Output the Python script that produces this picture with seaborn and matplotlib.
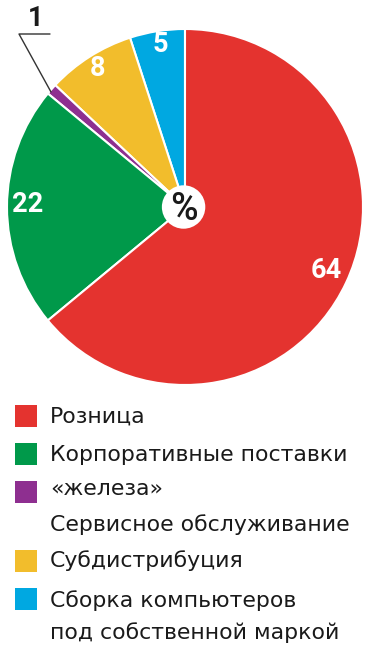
import matplotlib
matplotlib.use("Agg")
import matplotlib.pyplot as plt
import seaborn as sns
from matplotlib.patches import Rectangle, Circle

sns.set_theme(style="white")
plt.rcParams['font.family'] = ['DejaVu Sans']

# Data (counter-clockwise from top)
categories = ["Сборка компьютеров под собственной маркой", "Субдистрибуция",
              "Сервисное обслуживание", "Корпоративные поставки «железа»", "Розница"]
values = [5, 8, 1, 22, 64]
colors = ["#00A8E1", "#F2BD2C", "#8E2F90", "#00994A", "#E4332F"]
value_labels = ["5", "8", "1", "22", "64"]

legend_lines = ["Розница", "Корпоративные поставки", "«железа»",
                "Сервисное обслуживание", "Субдистрибуция",
                "Сборка компьютеров", "под собственной маркой"]
legend_square_colors = ["#E4332F", "#00994A", "#8E2F90", None, "#F2BD2C", "#00A8E1", None]

W, H = 370, 650
fig = plt.figure(figsize=(W / 100, H / 100), dpi=100)
fig.patch.set_facecolor("white")

cx, cy, R = 185, 207, 178
ax = fig.add_axes([(cx - R) / W, 1 - (cy + R) / H, 2 * R / W, 2 * R / H])
wedges, _ = ax.pie(values, colors=colors, startangle=90, counterclock=True,
                   radius=1.0, wedgeprops=dict(edgecolor="white", linewidth=1.5))
ax.set_xlim(-1, 1)
ax.set_ylim(-1, 1)
ax.set_aspect("equal")
ax.axis("off")

# center circle with %
ax.add_patch(Circle((-0.008, 0), 0.122, facecolor="white", edgecolor="none", zorder=5))
ax.text(-0.008, -0.012, "%", ha="center", va="center", fontsize=27,
        family=["Roboto", "DejaVu Sans"], fontweight="medium",
        color="#1a1a1a", zorder=6)

def px2data(x, y):
    return ((x - cx) / R, (cy - y) / R)

label_pos = {"5": (160, 44), "8": (97.5, 69), "22": (28, 205), "64": (326, 270)}
for lab in value_labels:
    if lab in label_pos:
        dx, dy = px2data(*label_pos[lab])
        ax.text(dx, dy, lab, ha="center", va="center", fontsize=19.5,
                family=["Roboto", "DejaVu Sans"], fontweight="bold",
                color="white", zorder=6)

# leader for "1"
p0 = px2data(51, 92)
p1 = px2data(19, 34)
p2 = px2data(50, 34)
ax.plot([p0[0], p1[0], p2[0]], [p0[1], p1[1], p2[1]], color="#333333",
        lw=1.0, clip_on=False, zorder=7)
lx, ly = px2data(36, 18.5)
ax.text(lx, ly, "1", ha="center", va="center", fontsize=19.5,
        family=["Roboto", "DejaVu Sans"], fontweight="bold",
        color="#1a1a1a", clip_on=False)

# legend
text_y = [417, 455, 489, 525, 561, 601, 633]
sq_y = [416, 454, 492, None, 561, 599, None]
for i, line in enumerate(legend_lines):
    fig.text(50 / W, 1 - text_y[i] / H, line, ha="left", va="center",
             fontsize=15.8, color="#1a1a1a")
    if legend_square_colors[i] is not None:
        s = 22
        fig.patches.append(Rectangle((15 / W, 1 - (sq_y[i] + s / 2) / H), s / W, s / H,
                                     transform=fig.transFigure,
                                     facecolor=legend_square_colors[i], edgecolor="none"))

fig.savefig("out.png", dpi=100, facecolor="white")
